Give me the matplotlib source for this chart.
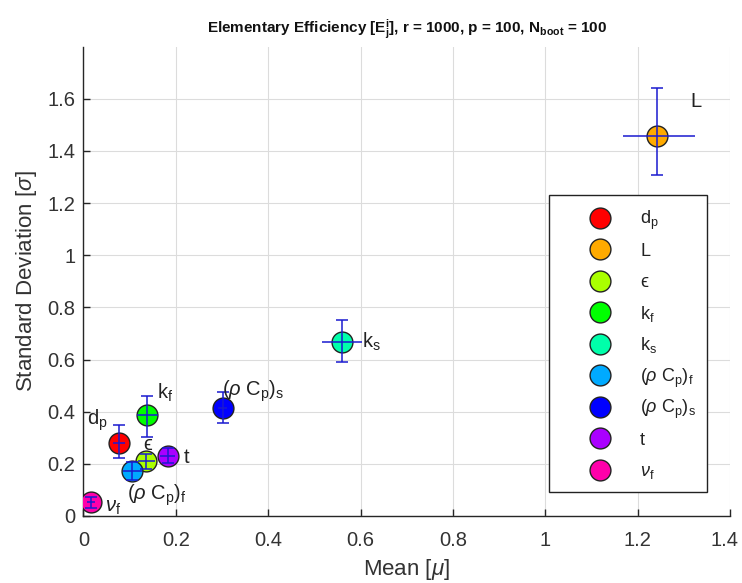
import matplotlib
matplotlib.use("Agg")
import matplotlib.pyplot as plt
from matplotlib.patches import Rectangle
import matplotlib.transforms as mtransforms
import colorsys

plt.rcParams['font.family'] = ['Liberation Sans', 'DejaVu Sans']
plt.rcParams['mathtext.fontset'] = 'custom'
plt.rcParams['mathtext.rm'] = 'Liberation Sans'
plt.rcParams['mathtext.it'] = 'Liberation Sans:italic'
plt.rcParams['mathtext.bf'] = 'Liberation Sans:bold'

# Parameter names (TeX style) and bootstrap statistics of elementary effects
params = [r'd$_\mathrm{p}$', 'L', '\u03f5', r'k$_\mathrm{f}$', r'k$_\mathrm{s}$',
          r'($\rho$ C$_\mathrm{p}$)$_\mathrm{f}$', r'($\rho$ C$_\mathrm{p}$)$_\mathrm{s}$',
          't', r'$\nu_\mathrm{f}$']
mu = [0.076, 1.241, 0.135, 0.138, 0.560, 0.104, 0.301, 0.182, 0.016]
sigma = [0.281, 1.458, 0.211, 0.388, 0.668, 0.174, 0.413, 0.230, 0.054]
# bootstrap confidence bounds
mu_lo = [0.064, 1.167, 0.117, 0.116, 0.517, 0.086, 0.292, 0.166, 0.007]
mu_hi = [0.090, 1.323, 0.155, 0.161, 0.603, 0.126, 0.310, 0.198, 0.025]
sigma_lo = [0.222, 1.309, 0.180, 0.304, 0.591, 0.138, 0.357, 0.203, 0.031]
sigma_hi = [0.349, 1.641, 0.238, 0.460, 0.752, 0.208, 0.477, 0.261, 0.074]

# label offsets from each marker (points), text placed on its baseline
label_dx = [-23.0, 24.0, -1.5, 6.8, 14.4, -3.6, -0.4, 11.7, 10.1]
label_dy = [12.6, 20.7, 7.8, 11.7, -4.1, -21.2, 8.7, -4.7, -7.1]

xticks = [0, 0.2, 0.4, 0.6, 0.8, 1.0, 1.2, 1.4]
xtick_labels = ['0', '0.2', '0.4', '0.6', '0.8', '1', '1.2', '1.4']
yticks = [0, 0.2, 0.4, 0.6, 0.8, 1.0, 1.2, 1.4, 1.6]
ytick_labels = ['0', '0.2', '0.4', '0.6', '0.8', '1', '1.2', '1.4', '1.6']

colors = [colorsys.hsv_to_rgb(i / len(params), 1.0, 1.0) for i in range(len(params))]

fig = plt.figure(figsize=(7.42, 5.83), dpi=100)
ax = fig.add_axes([0.1125, 0.115, 0.8715, 0.805])

axcol = '#262626'
bar_col = '#1a1ad0'
edge_col = '#222222'

for i, name in enumerate(params):
    ax.plot(mu[i], sigma[i], 'o', ms=15, mfc=colors[i], mec=edge_col, mew=1.0,
            zorder=3, linestyle='none')
    yerr = [[sigma[i] - sigma_lo[i]], [sigma_hi[i] - sigma[i]]]
    xerr = [[mu[i] - mu_lo[i]], [mu_hi[i] - mu[i]]]
    ax.errorbar(mu[i], sigma[i], yerr=yerr, fmt='none', ecolor=bar_col,
                elinewidth=1.1, capsize=4.5, capthick=1.1, zorder=4)
    ax.errorbar(mu[i], sigma[i], xerr=xerr, fmt='none', ecolor=bar_col,
                elinewidth=1.1, capsize=0, zorder=4)
    ax.annotate(name, (mu[i], sigma[i]), xytext=(label_dx[i], label_dy[i]),
                textcoords='offset points', ha='left', va='baseline',
                fontsize=14.5, color='#222222', zorder=5)

ax.set_xlim(0, 1.4)
ax.set_ylim(0, 1.8)
ax.set_xticks(xticks)
ax.set_xticklabels(xtick_labels)
ax.set_yticks(yticks)
ax.set_yticklabels(ytick_labels)
ax.grid(True, color='#dcdcdc', linewidth=0.8)
ax.set_axisbelow(True)
for s in ['top', 'right']:
    ax.spines[s].set_visible(False)
for s in ['left', 'bottom']:
    ax.spines[s].set_color(axcol)
    ax.spines[s].set_linewidth(1.0)
ax.tick_params(direction='in', length=5, width=1.0, colors=axcol, labelsize=14.5,
               labelcolor='#333333')
ax.tick_params(axis='x', pad=11)
ax.tick_params(axis='y', pad=6)

# keep the last x tick label inside the figure edge
last = ax.get_xticklabels()[-1]
last.set_transform(last.get_transform() +
                   mtransforms.ScaledTranslation(-4 / 72, 0, fig.dpi_scale_trans))

ax.set_xlabel(r'Mean [$\mu$]', fontsize=16, color='#333333', labelpad=5)
ax.set_ylabel(r'Standard Deviation [$\sigma$]', fontsize=16, color='#333333', labelpad=6)

ax.set_title(r'Elementary Efficiency [$\mathbf{E}_\mathbf{j}^\mathbf{i}$], r = 1000, '
             r'p = 100, N$_\mathbf{boot}$ = 100', fontsize=11, fontweight='bold',
             color='#111111', pad=10)

# legend box with one marker per parameter
lx0, lx1, ly0, ly1 = 0.720, 0.964, 0.052, 0.684
ax.add_patch(Rectangle((lx0, ly0), lx1 - lx0, ly1 - ly0, transform=ax.transAxes,
                       facecolor='white', edgecolor=edge_col, linewidth=1.0, zorder=6))
row0 = 0.635
row_step = 0.0671
for i, name in enumerate(params):
    yy = row0 - i * row_step
    ax.plot(0.799, yy, 'o', ms=15, mfc=colors[i], mec=edge_col, mew=1.0,
            transform=ax.transAxes, zorder=7)
    ax.annotate(name, (0.861, yy), xycoords='axes fraction', xytext=(0, -4.6),
                textcoords='offset points', ha='left', va='baseline',
                fontsize=13, color='#222222', zorder=7)

fig.savefig('out.png', dpi=100)
